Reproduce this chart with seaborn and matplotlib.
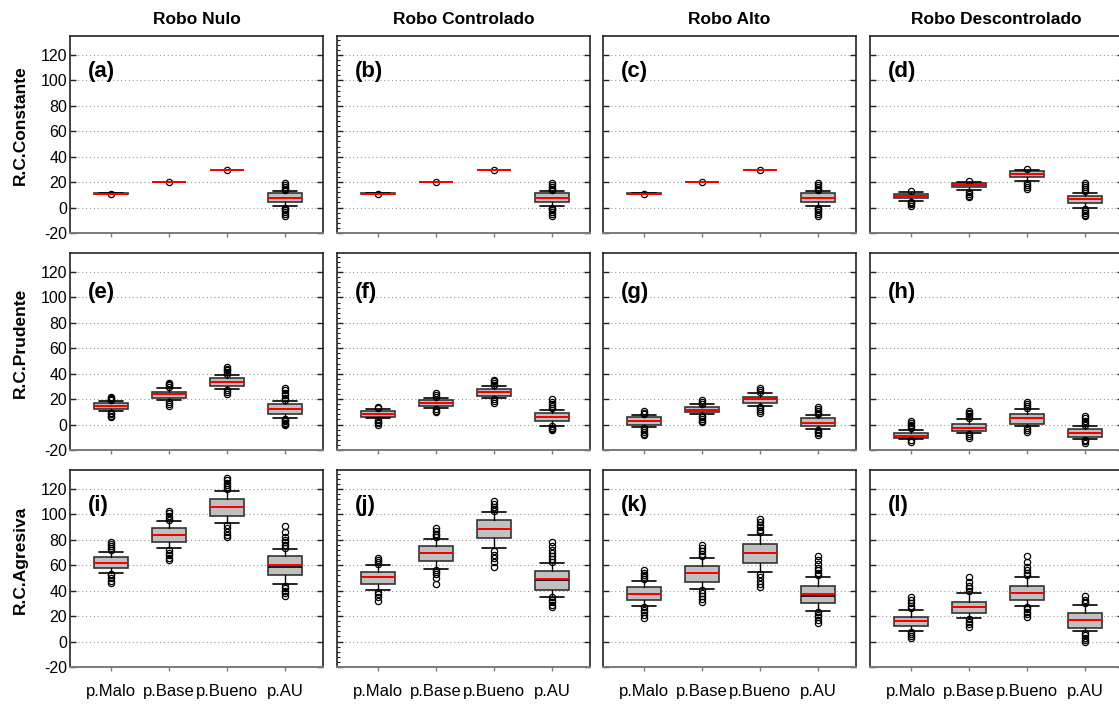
import matplotlib
matplotlib.use("Agg")
import matplotlib.pyplot as plt
import seaborn as sns
from matplotlib.ticker import MultipleLocator

robos = ["Robo Nulo", "Robo Controlado", "Robo Alto", "Robo Descontrolado"]
reglas = ["R.C.Constante", "R.C.Prudente", "R.C.Agresiva"]
pagos = ["p.Malo", "p.Base", "p.Bueno", "p.AU"]
letras = [["(a)", "(b)", "(c)", "(d)"],
          ["(e)", "(f)", "(g)", "(h)"],
          ["(i)", "(j)", "(k)", "(l)"]]

# box stats: [regla][robo][pago]
whislo = [
    [[10.6, 19.8, 29.3, 1.3], [10.6, 19.8, 29.3, 1.3], [10.6, 19.8, 29.3, 1.3], [5.5, 13.5, 20.7, 0.0]],
    [[10.4, 19.2, 27.9, 5.2], [5.0, 13.1, 20.8, -0.8], [-1.8, 8.0, 15.0, -3.4], [-11.2, -6.5, -1.3, -11.0]],
    [[54.0, 73.9, 93.6, 45.4], [40.4, 57.1, 73.4, 35.4], [28.3, 41.4, 54.6, 24.4], [8.6, 18.6, 28.1, 8.2]],
]
q1 = [
    [[10.8, 19.9, 29.4, 4.7], [10.8, 19.9, 29.4, 4.7], [10.8, 19.9, 29.4, 4.7], [7.8, 16.0, 24.4, 3.6]],
    [[12.2, 21.3, 30.4, 8.6], [6.2, 14.8, 22.6, 2.9], [0.0, 9.8, 17.0, -1.3], [-10.7, -5.2, 0.5, -9.4]],
    [[57.7, 78.4, 99.1, 52.7], [45.6, 63.4, 81.3, 40.9], [32.8, 47.2, 61.6, 30.2], [12.6, 22.3, 32.8, 10.5]],
]
med = [
    [[11.0, 20.0, 29.5, 7.9], [11.0, 20.0, 29.5, 7.9], [11.0, 20.0, 29.4, 7.9], [9.3, 17.8, 26.8, 6.8]],
    [[14.3, 23.9, 33.5, 12.0], [8.6, 16.9, 26.0, 6.0], [2.9, 11.8, 19.8, 1.3], [-8.6, -2.3, 5.2, -6.3]],
    [[62.1, 84.1, 106.1, 58.5], [50.6, 69.7, 88.8, 48.5], [37.7, 53.8, 69.5, 36.2], [16.0, 27.0, 38.3, 16.8]],
]
mean = [
    [[11.0, 20.0, 29.5, 7.9], [11.0, 20.0, 29.5, 7.9], [11.0, 20.0, 29.4, 7.9], [9.3, 17.8, 26.8, 6.8]],
    [[14.3, 23.9, 33.5, 12.0], [8.6, 16.9, 26.0, 6.0], [2.9, 11.8, 19.8, 1.3], [-8.6, -2.3, 5.2, -6.3]],
    [[62.1, 84.1, 106.1, 60.0], [50.6, 69.7, 88.8, 49.0], [37.7, 53.8, 69.5, 37.5], [16.0, 27.0, 38.3, 16.8]],
]
q3 = [
    [[11.2, 20.1, 29.6, 11.3], [11.2, 20.1, 29.6, 11.3], [11.2, 20.1, 29.5, 11.3], [10.8, 19.7, 28.8, 9.1]],
    [[16.6, 26.0, 36.4, 15.9], [10.7, 19.2, 28.3, 9.3], [5.7, 13.9, 22.0, 5.0], [-6.5, 0.8, 8.7, -3.4]],
    [[66.3, 89.1, 112.2, 67.1], [55.0, 75.2, 95.4, 55.3], [42.8, 59.8, 76.6, 43.5], [19.2, 31.0, 43.5, 22.3]],
]
whishi = [
    [[11.4, 20.2, 29.7, 12.8], [11.4, 20.2, 29.7, 12.8], [11.4, 20.2, 29.6, 12.8], [12.0, 20.5, 29.8, 11.8]],
    [[18.2, 28.6, 39.2, 18.2], [12.3, 21.0, 30.4, 11.7], [7.8, 15.9, 24.6, 7.3], [-3.9, 4.5, 12.3, -0.8]],
    [[70.8, 94.9, 118.7, 72.9], [60.0, 80.7, 101.7, 61.6], [48.0, 66.0, 84.1, 50.6], [25.2, 38.3, 51.1, 28.9]],
]
fliers = [
    [
        [[11.0], [20.0], [29.6], [14, 15, 16.5, 18, 19.5, 0, -1, -2, -3.5, -5, -6.5]],
        [[11.0], [20.0], [29.6], [14, 15, 16.5, 18, 19.5, 0, -1, -2, -3.5, -5, -6.5]],
        [[11.0], [20.0], [29.4], [14, 15, 16.5, 18, 19.5, 0, -1, -2, -3.5, -5, -6.5]],
        [[12.8, 1.5, 2.5, 3.5, 4.5], [21.3, 8, 9.5, 11, 12.5], [30.7, 15, 16.5, 18, 19.5],
         [13, 14.5, 16, 18, 19.5, -1, -2.5, -4, -5.5, -7]],
    ],
    [
        [[19, 20, 21, 22, 6, 7, 8, 9.5], [29.5, 31, 32, 33, 15, 16.5, 18],
         [40, 41.5, 43, 44, 45, 24, 25.5, 27], [19.5, 21, 23, 25, 27, 28.5, -0.5, 0.5, 1.5, 2.5, 3.5, 4.5]],
        [[13, 14, 0, 1, 2, 3.5], [22, 23, 24.5, 10, 11, 12],
         [31, 32.5, 34, 35, 17, 18.5, 20], [13, 14.5, 16, 18, 20, -1.5, -2.5, -3.5, -4.5]],
        [[8.5, 9.5, 11, -3, -4.5, -6, -7.5, -8.5], [16.5, 18, 19, 2, 3, 4.5, 6, 7],
         [25.5, 27, 28.5, 9, 10.5, 12, 13.5], [8, 9.5, 11, 12.5, 14, -4.5, -5.5, -7, -8]],
        [[-3, -1.5, 0, 1.5, 2.5, -12, -13.5], [5, 6.5, 8, 9.5, 10.5, -7.5, -9, -10.5],
         [13, 14.5, 16, 17.5, -2.5, -4, -5.5], [0, 1.5, 3, 5, 6.5, -12, -13, -14.5]],
    ],
    [
        [[72, 73.5, 75, 76.5, 78, 46, 48, 50, 52, 53.5], [96, 97.5, 99, 101, 103, 64, 66, 68, 70, 72],
         [120, 121.5, 123, 125, 127, 129, 82, 84, 86.5, 89, 91.5],
         [74, 76, 78, 80, 82.5, 86, 91, 36, 38, 40, 42, 44]],
        [[61, 62.5, 64, 66, 32, 35, 37.5, 39], [82, 83.5, 85, 87, 89, 45, 50, 53, 55, 56.5],
         [103, 104.5, 106, 108, 110.5, 59, 63, 66, 68.5, 71],
         [63, 65, 67, 69.5, 72, 75, 78, 27.5, 29, 31, 33, 35]],
        [[49, 50.5, 52, 54, 56, 18.5, 21, 23, 25, 27], [67.5, 69, 71, 73.5, 76, 31, 33.5, 36, 38.5, 40.5],
         [86, 88, 90, 92, 94, 96.5, 43, 45.5, 48, 50.5, 53],
         [52, 54, 56, 58, 61, 64, 67, 15, 17, 19, 21, 23]],
        [[26.5, 28, 30, 32.5, 35, 3, 4.5, 6, 7.5], [40, 42, 44, 47, 51, 11.5, 13.5, 15.5, 17.5],
         [52.5, 54, 56, 59, 63, 67, 19.5, 21.5, 23.5, 25.5, 27.5],
         [30, 31.5, 33, 36, 0, 1.5, 3, 5, 7]],
    ],
]

sns.set_style("white")
plt.rcParams['font.family'] = ['Liberation Sans', 'DejaVu Sans']
plt.rcParams['axes.unicode_minus'] = False
plt.rcParams['text.color'] = 'black'
plt.rcParams['xtick.labelcolor'] = 'black'
plt.rcParams['ytick.labelcolor'] = 'black'

W, H = 1119, 708
fig = plt.figure(figsize=(W / 100, H / 100), dpi=100)

col_left = [70, 337, 603, 870]
row_top = [36, 253, 470]
ax_w, ax_h = 253, 197
letter_y = [0.82, 0.80, 0.82]

for r in range(3):
    for c in range(4):
        ax = fig.add_axes([col_left[c] / W, 1 - (row_top[r] + ax_h) / H, ax_w / W, ax_h / H])
        stats = []
        for p in range(4):
            stats.append(dict(label=pagos[p], whislo=whislo[r][c][p], q1=q1[r][c][p],
                              med=med[r][c][p], mean=mean[r][c][p], q3=q3[r][c][p],
                              whishi=whishi[r][c][p], fliers=fliers[r][c][p]))
        ax.bxp(stats, positions=[1, 2, 3, 4], widths=0.6, capwidths=0.42,
               patch_artist=True, showmeans=True, meanline=True, manage_ticks=False,
               boxprops=dict(facecolor='#c0c0c0', edgecolor='#333333', linewidth=1.2),
               medianprops=dict(color='black', linewidth=1.2),
               meanprops=dict(color='red', linewidth=1.4, linestyle='-'),
               whiskerprops=dict(color='black', linewidth=1.0),
               capprops=dict(color='black', linewidth=1.2),
               flierprops=dict(marker='o', markerfacecolor='none', markeredgecolor='black',
                               markersize=4.5, markeredgewidth=0.9))

        ax.set_xlim(0.293, 4.655)
        ax.set_ylim(-20, 135)
        ax.set_xticks([1, 2, 3, 4])
        ax.set_yticks(range(-20, 121, 20))
        ax.yaxis.grid(True, linestyle=(0, (1, 2.5)), color='#9a9a9a', linewidth=0.8)
        ax.xaxis.grid(False)
        ax.set_axisbelow(True)

        for side in ['top', 'left', 'right']:
            ax.spines[side].set_color('#222222')
            ax.spines[side].set_linewidth(1.2)
        ax.spines['bottom'].set_color('#7a7a7a')
        ax.spines['bottom'].set_linewidth(1.4)

        ax.tick_params(axis='y', which='major', direction='in', left=True, right=True,
                       length=4, width=1, color='#222222', labelsize=11.5, pad=2,
                       labelleft=(c == 0))
        ax.tick_params(axis='x', direction='out', bottom=True, length=3, width=1,
                       color='#7a7a7a', labelsize=12, pad=9, labelbottom=(r == 2))
        if c == 1:
            ax.yaxis.set_minor_locator(MultipleLocator(4))
            ax.tick_params(axis='y', which='minor', direction='in', left=True, right=False,
                           length=2.5, width=0.8, color='#222222')
        if r == 2:
            ax.set_xticklabels(pagos)

        ax.text(0.072, letter_y[r], letras[r][c], transform=ax.transAxes,
                fontsize=16, fontweight='bold', ha='left', va='center')

for c in range(4):
    fig.text((col_left[c] + ax_w / 2) / W, 1 - 19.5 / H, robos[c], ha='center', va='center',
             fontsize=12.5, fontweight='bold')
for r in range(3):
    fig.text(20 / W, 1 - (row_top[r] + ax_h / 2 - 9) / H, reglas[r], ha='center', va='center',
             rotation=90, fontsize=12.5, fontweight='bold')

fig.savefig("out.png", dpi=100)
